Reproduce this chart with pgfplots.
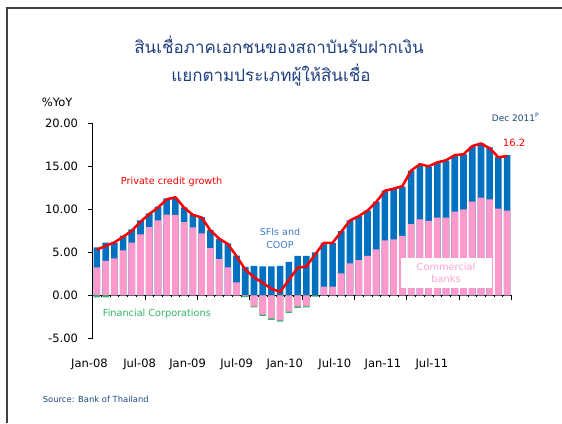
\documentclass[border=0pt]{standalone}
\usepackage{fontspec}
\setmainfont{DejaVu Sans}
\newfontfamily\thaifont[Script=Thai]{Loma}
\usepackage{pgfplots}
\pgfplotsset{compat=1.18}
\usepackage{pgfplotstable}
\definecolor{barblue}{HTML}{0070C0}
\definecolor{barpink}{HTML}{FF99CC}
\definecolor{fcgreen}{HTML}{33B36B}
\definecolor{titleblue}{RGB}{31,64,128}
\definecolor{srcblue}{RGB}{31,73,125}
\definecolor{sfiblue}{HTML}{3B7BC8}
\definecolor{cbpink}{HTML}{FFA3D1}

\pgfplotstableread{
i top pinkpos pinkneg greenbot line
0 5.58 3.26 0 -0.25 5.30
1 6.12 3.99 0 -0.25 5.75
2 6.12 4.30 0 0 6.15
3 6.93 5.23 0 0 6.80
4 7.67 6.12 0 0 7.50
5 8.72 7.09 0 0 8.56
6 9.53 7.94 0 0 9.45
7 10.30 8.72 0 0 10.20
8 11.28 9.37 0 0 11.15
9 11.28 9.34 0 0 11.40
10 10.23 8.52 0 0 10.20
11 9.45 7.90 0 0 9.35
12 9.10 7.20 0 0 9.05
13 7.59 5.50 0 0 7.55
14 6.53 4.22 0 0 6.60
15 6.05 3.26 0 0 5.97
16 4.60 1.50 0 0 4.55
17 3.30 0 -0.10 -0.20 3.00
18 3.41 0 -1.28 -1.40 2.10
19 3.35 0 -2.25 -2.40 1.45
20 3.35 0 -2.68 -2.86 0.75
21 3.41 0 -2.92 -3.05 0.40
22 3.88 0 -1.90 -2.05 1.80
23 4.57 0 -1.30 -1.45 3.20
24 4.57 0 -1.25 -1.40 3.35
25 5.00 0 0 -0.15 4.75
26 6.10 1.00 0 0 6.10
27 6.10 1.00 0 0 6.10
28 7.45 2.56 0 0 7.40
29 8.70 3.72 0 0 8.70
30 9.20 4.10 0 0 9.20
31 9.85 4.57 0 0 9.85
32 10.90 5.35 0 0 10.85
33 12.16 6.39 0 0 12.16
34 12.36 6.51 0 0 12.40
35 12.63 6.90 0 0 12.70
36 14.50 8.29 0 0 14.50
37 15.15 8.83 0 0 15.25
38 14.95 8.64 0 0 15.00
39 15.46 9.02 0 0 15.46
40 15.65 9.02 0 0 15.70
41 16.20 9.72 0 0 16.30
42 16.40 10.00 0 0 16.40
43 17.28 10.88 0 0 17.35
44 17.67 11.35 0 0 17.65
45 17.20 11.16 0 0 17.10
46 16.12 10.07 0 0 16.05
47 16.31 9.84 0 0 16.20
}\creditdata

\begin{document}
\begin{tikzpicture}[x=1pt,y=1pt]
\useasboundingbox (0,0) rectangle (562,423);
\draw[line width=1.3pt, black!75] (7,0) -- (7,415) -- (562,415);
\begin{axis}[
  at={(92.5pt,84.7pt)}, anchor=south west,
  scale only axis, width=419pt, height=215pt,
  xmin=-0.5, xmax=47.5, ymin=-5, ymax=20,
  axis y line*=left, axis x line*=middle,
  hide obscured x ticks=false, hide obscured y ticks=false,
  tick align=outside,
  ytick={-5,0,5,10,15,20},
  major tick length=5pt, minor tick length=2pt,
  /pgf/number format/fixed, /pgf/number format/fixed zerofill,
  /pgf/number format/precision=2, /pgf/number format/assume math mode=true,
  yticklabel style={font=\fontsize{11.5}{13}\selectfont, xshift=-6pt},
  xtick={-0.5,5.5,...,47.5}, xticklabels={},
  minor x tick num=5,
  extra x ticks={0.30,6.04,11.54,17.16,22.67,28.40,33.91,39.53},
  extra x tick labels={Jan-08,Jul-08,Jan-09,Jul-09,Jan-10,Jul-10,Jan-11,Jul-11},
  extra x tick style={major tick length=0pt, tick label style={font=\fontsize{11.5}{13}\selectfont, xshift=-10pt, yshift=-60pt}},
  axis line style={black, line width=0.8pt},
  every tick/.style={black, line width=0.6pt},
  clip=false,
]
\addplot[ybar, bar width=6.6pt, bar shift=0pt, fill=barblue, draw=none] table[x=i, y=top] {\creditdata};
\addplot[ybar, bar width=6.6pt, bar shift=0pt, fill=barpink, draw=none] table[x=i, y=pinkpos] {\creditdata};
\addplot[ybar, bar width=6.6pt, bar shift=0pt, fill=fcgreen, draw=none] table[x=i, y=greenbot] {\creditdata};
\addplot[ybar, bar width=6.6pt, bar shift=0pt, fill=barpink, draw=none] table[x=i, y=pinkneg] {\creditdata};
\addplot[red, line width=2.5pt, line join=round, mark=none] table[x=i, y=line] {\creditdata};
\node[fill=white, inner sep=0pt, minimum width=91pt, minimum height=30pt, align=center, text=cbpink, font=\fontsize{9.8}{11.5}\selectfont] at (axis cs:40.0,2.62) {Commercial\\banks};
\end{axis}
\node[text=titleblue, font=\thaifont\fontsize{17}{20}\selectfont] at (279,378) {สินเชื่อภาคเอกชนของสถาบันรับฝากเงิน};
\node[text=titleblue, font=\thaifont\fontsize{17}{20}\selectfont] at (271,348) {แยกตามประเภทผู้ให้สินเชื่อ};
\node[font=\fontsize{11.5}{13}\selectfont, anchor=west, inner sep=0pt] at (41.7,321) {\%YoY};
\node[text=srcblue, font=\fontsize{9}{10}\selectfont, anchor=west, inner sep=0pt] at (491.7,305.7) {Dec 2011\textsuperscript{P}};
\node[text=red, font=\fontsize{10}{12}\selectfont, anchor=west, inner sep=0pt] at (502.7,279.7) {16.2};
\node[text=red, font=\fontsize{9.7}{11}\selectfont, anchor=west, inner sep=0pt] at (120.7,240.7) {Private credit growth};
\node[text=sfiblue, font=\fontsize{9.5}{12.7}\selectfont, align=center, inner sep=0pt] at (280,184.5) {SFIs and\\COOP};
\node[text=fcgreen, font=\fontsize{9.7}{11}\selectfont, anchor=west, inner sep=0pt] at (102.7,109) {Financial Corporations};
\node[text=srcblue, font=\fontsize{8.4}{10}\selectfont, anchor=west, inner sep=0pt] at (42.7,24) {Source: Bank of Thailand};
\end{tikzpicture}
\end{document}
